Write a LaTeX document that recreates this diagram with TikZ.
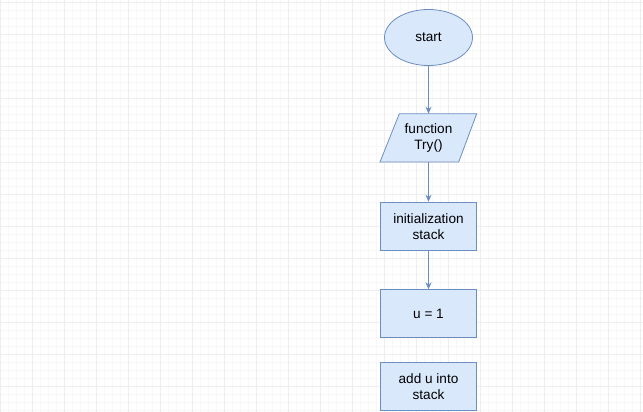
\documentclass[tikz,border=0pt]{standalone}
\usepackage{fontspec}
\setmainfont{Liberation Sans}
\usetikzlibrary{shapes.geometric,arrows.meta}
\definecolor{fillb}{HTML}{DAE8FC}
\definecolor{lineb}{HTML}{6C8EBF}
\definecolor{gridminor}{HTML}{F7F7F7}
\definecolor{gridmajor}{HTML}{EEEEEE}
\begin{document}
\begin{tikzpicture}[x=1pt,y=-1pt,
  txt/.style={font=\fontsize{13.6}{16}\selectfont},
  box/.style={txt,draw=lineb,fill=fillb,line width=0.8pt,minimum width=96pt,minimum height=48pt,inner sep=0pt,align=center},
  oval/.style={txt,ellipse,draw=lineb,fill=fillb,line width=0.8pt,minimum width=88pt,minimum height=56pt,inner sep=0pt},
  flow/.style={draw=lineb,line width=0.8pt,-{Stealth[length=7pt,width=6pt]}}]
\useasboundingbox (0,0) rectangle (643,412);
\fill[white] (0,0) rectangle (643,412);
\foreach \i in {0,8,...,640} \draw[gridminor,line width=0.5pt] (\i,0) -- (\i,412);
\foreach \j in {2,10,...,410} \draw[gridminor,line width=0.5pt] (0,\j) -- (643,\j);
\foreach \i in {0,32,...,640} \draw[gridmajor,line width=0.7pt] (\i,0) -- (\i,412);
\foreach \j in {2,34,...,410} \draw[gridmajor,line width=0.7pt] (0,\j) -- (643,\j);
\node[oval] (start) at (428.5,37.5) {start};
\coordinate (pA) at (399.3,113.7);
\coordinate (pB) at (476.7,113.7);
\coordinate (pC) at (458.7,162);
\coordinate (pD) at (380,162);
\draw[draw=lineb,fill=fillb,line width=0.8pt] (pA) -- (pB) -- (pC) -- (pD) -- cycle;
\node[txt,align=center] (func) at (428.5,138) {function\\Try()};
\coordinate (ftop) at (428.5,113.7);
\coordinate (fbot) at (428.5,162);
\node[box] (init) at (428.5,226.2) {initialization\\stack};
\node[box] (u) at (428.5,313.7) {u = 1};
\node[box] (add) at (428.5,386.4) {add u into\\stack};
\draw[flow] (start) -- (ftop);
\draw[flow] (fbot) -- (init);
\draw[flow] (init) -- (u);
\end{tikzpicture}
\end{document}
